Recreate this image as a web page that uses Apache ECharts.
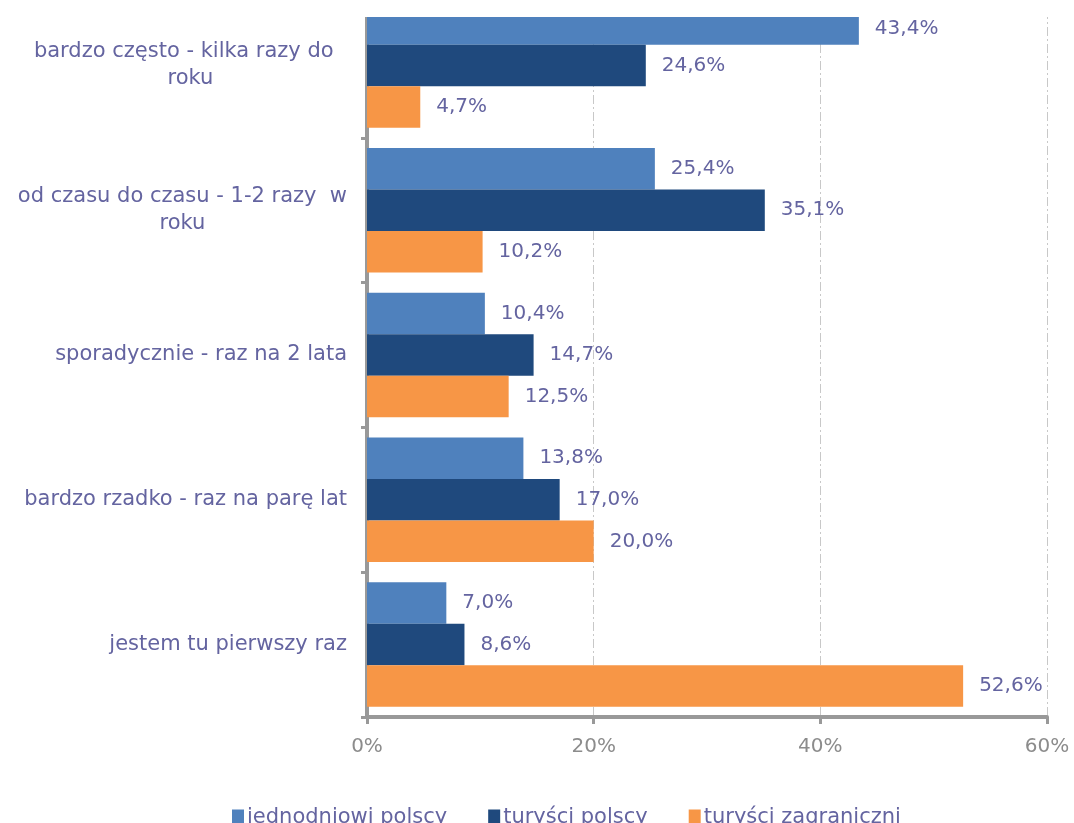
<!DOCTYPE html>
<html>
<head>
<meta charset="utf-8">
<script src="https://cdn.jsdelivr.net/npm/echarts@6/dist/echarts.min.js"></script>
<style>
    html, body { margin: 0; padding: 0; background: #fff; overflow: hidden; }
    /* wykres jest u góry przycięty, więc przesuwamy go o 7px w górę */
    #main { width: 1074px; height: 830px; margin-top: -7px; }
</style>
</head>
<body>
<div id="main"></div>
<script>
    // dane
    const categories = [
        'bardzo często - kilka razy do  \nroku',
        'od czasu do czasu - 1-2 razy  w\nroku',
        'sporadycznie - raz na 2 lata',
        'bardzo rzadko - raz na parę lat',
        'jestem tu pierwszy raz'
    ]
    const seriesNames = ['jednodniowi polscy', 'turyści polscy', 'turyści zagraniczni']
    const jednodniowi = [43.4, 25.4, 10.4, 13.8, 7.0]
    const turysciPolscy = [24.6, 35.1, 14.7, 17.0, 8.6]
    const turysciZagr = [4.7, 10.2, 12.5, 20.0, 52.6]
    const xTicks = [0, 20, 40, 60]

    const colors = ['#4f81bd', '#1f497d', '#f79646']
    const txt = '#6464a0'
    const font = 'DejaVu Sans'

    const fmt = (v) => v.toFixed(1).replace('.', ',') + '%'

    const myChart = echarts.init(document.getElementById('main'))

    const makeSeries = (name, values, idx) => ({
        name: name,
        type: 'bar',
        barGap: 0,
        barCategoryGap: '14%',
        itemStyle: { color: colors[idx] },
        data: values.map((v, i) => {
            // górny pasek jest przycięty, etykieta nieco niżej
            if (idx === 0 && i === 0) {
                return { value: v, label: { offset: [0, 5] } }
            }
            return v
        }),
        label: {
            show: true,
            position: 'right',
            distance: 16,
            color: txt,
            fontFamily: font,
            fontSize: 20,
            formatter: (p) => fmt(p.value)
        }
    })

    const option = {
        animation: false,
        textStyle: { fontFamily: font },
        grid: { left: 367, right: 27, top: 0, bottom: 106 },
        xAxis: {
            type: 'value',
            min: xTicks[0],
            max: xTicks[xTicks.length - 1],
            interval: 20,
            axisLine: { show: true, lineStyle: { color: '#999', width: 4 } },
            axisTick: { show: true, length: 7, lineStyle: { color: '#999', width: 3 } },
            axisLabel: {
                color: '#8c8c8c', fontFamily: font, fontSize: 20, margin: 20,
                formatter: (v) => v + '%'
            },
            splitLine: {
                show: true,
                lineStyle: { color: '#c8c8c8', width: 1, type: [9, 3, 2, 3] }
            }
        },
        yAxis: {
            type: 'category',
            inverse: true,
            data: categories,
            axisLine: { show: true, lineStyle: { color: '#999', width: 4 } },
            axisTick: { show: true, length: 6, lineStyle: { color: '#999', width: 3 } },
            axisLabel: {
                margin: 20,
                formatter: (v) => v.split('\n').map(s => '{a|' + s + '}').join('\n'),
                rich: {
                    a: { color: txt, fontFamily: font, fontSize: 21, lineHeight: 27, align: 'center' }
                }
            }
        },
        legend: {
            left: 227,
            top: 809,
            itemWidth: 12,
            itemHeight: 16,
            itemGap: 41,
            icon: 'rect',
            textStyle: { color: txt, fontFamily: font, fontSize: 21, padding: [0, 0, 0, -2] },
            data: seriesNames
        },
        graphic: [{
            type: 'rect',
            z: 100,
            shape: { x: 300, y: 0, width: 774, height: 24 },
            style: { fill: '#fff' }
        }],
        series: [
            makeSeries(seriesNames[0], jednodniowi, 0),
            makeSeries(seriesNames[1], turysciPolscy, 1),
            makeSeries(seriesNames[2], turysciZagr, 2)
        ]
    }

    option && myChart.setOption(option)
</script>
</body>
</html>
